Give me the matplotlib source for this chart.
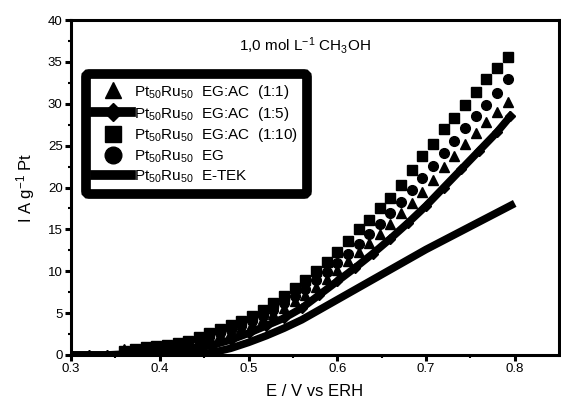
import matplotlib
matplotlib.use('Agg')
import matplotlib.pyplot as plt
from matplotlib.lines import Line2D

plt.rcParams['font.family'] = ['Liberation Sans', 'DejaVu Sans']
plt.rcParams['mathtext.fontset'] = 'custom'
plt.rcParams['mathtext.rm'] = 'Liberation Sans'
plt.rcParams['mathtext.it'] = 'Liberation Sans'
plt.rcParams['mathtext.default'] = 'regular'

# potential grid of the marker series (V vs ERH)
E_pts = [0.360, 0.372, 0.384, 0.396, 0.408, 0.420, 0.432, 0.444, 0.456, 0.468,
         0.480, 0.492, 0.504, 0.516, 0.528, 0.540, 0.552, 0.564, 0.576, 0.588,
         0.600, 0.612, 0.624, 0.636, 0.648, 0.660, 0.672, 0.684, 0.696, 0.708,
         0.720, 0.732, 0.744, 0.756, 0.768, 0.780, 0.792]

# Pt50Ru50 EG:AC (1:10) - squares
I_1_10 = [0.5, 0.7, 0.9, 1.1, 1.2, 1.4, 1.7, 2.1, 2.6, 3.1,
          3.6, 4.0, 4.7, 5.4, 6.2, 7.1, 8.0, 9.0, 10.0, 11.1,
          12.3, 13.6, 15.0, 16.1, 17.5, 18.7, 20.3, 22.1, 23.8, 25.2,
          27.0, 28.3, 29.9, 31.4, 32.9, 34.3, 35.6]

# Pt50Ru50 EG - circles
I_EG = [0.4, 0.6, 0.8, 0.9, 1.1, 1.3, 1.5, 1.8, 2.2, 2.6,
        3.0, 3.5, 4.1, 4.7, 5.4, 6.2, 7.0, 7.9, 8.9, 9.9,
        11.0, 12.1, 13.3, 14.5, 15.7, 17.0, 18.3, 19.7, 21.1, 22.6,
        24.1, 25.6, 27.1, 28.5, 29.9, 31.3, 32.9]

# Pt50Ru50 EG:AC (1:1) - triangles
I_1_1 = [0.7, 0.6, 0.7, 0.8, 0.9, 1.1, 1.4, 1.7, 2.0, 2.4,
         2.8, 3.2, 3.7, 4.3, 4.9, 5.6, 6.4, 7.2, 8.1, 9.1,
         10.2, 11.2, 12.3, 13.4, 14.5, 15.7, 16.9, 18.2, 19.5, 20.9,
         22.4, 23.8, 25.2, 26.5, 27.8, 29.0, 30.2]

# Pt50Ru50 EG:AC (1:5) - dense diamonds (thick band)
E_1_5 = [0.30, 0.32, 0.34, 0.36, 0.38, 0.40, 0.42, 0.44, 0.46, 0.48, 0.50, 0.52,
         0.54, 0.56, 0.58, 0.60, 0.62, 0.64, 0.66, 0.68, 0.70, 0.72, 0.74, 0.76,
         0.78, 0.795]
I_1_5 = [0.0, 0.0, 0.0, 0.1, 0.2, 0.3, 0.5, 0.8, 1.2, 1.8, 2.6, 3.5,
         4.4, 5.6, 7.2, 8.8, 10.4, 12.1, 13.9, 15.8, 17.8, 20.0, 22.2, 24.4,
         26.6, 28.5]

# Pt50Ru50 E-TEK - thick line
E_etek = [0.30, 0.32, 0.34, 0.36, 0.38, 0.40, 0.42, 0.44, 0.46, 0.48, 0.50, 0.52,
          0.54, 0.56, 0.58, 0.60, 0.62, 0.64, 0.66, 0.68, 0.70, 0.72, 0.74, 0.76,
          0.78, 0.80]
I_etek = [0.0, 0.0, 0.0, 0.0, 0.0, 0.0, 0.0, 0.1, 0.3, 0.8, 1.5, 2.3,
          3.2, 4.2, 5.4, 6.6, 7.8, 9.0, 10.2, 11.4, 12.6, 13.7, 14.8, 15.9,
          17.0, 18.1]

labels = [r'Pt$_{50}$Ru$_{50}$  EG:AC  (1:1)',
          r'Pt$_{50}$Ru$_{50}$  EG:AC  (1:5)',
          r'Pt$_{50}$Ru$_{50}$  EG:AC  (1:10)',
          r'Pt$_{50}$Ru$_{50}$  EG',
          r'Pt$_{50}$Ru$_{50}$  E-TEK']

fig = plt.figure(figsize=(5.61, 4.07), dpi=100)
ax = fig.add_axes([0.1266, 0.1278, 0.870, 0.823])

ax.plot(E_etek, I_etek, '-', color='k', lw=5.5, solid_capstyle='butt')
ax.plot(E_1_5, I_1_5, '-', color='k', lw=5.5, marker='D', ms=5)
ax.plot(E_pts, I_1_1, '^', color='k', ms=7.5, ls='none')
ax.plot(E_pts, I_EG, 'o', color='k', ms=7, ls='none')
ax.plot(E_pts, I_1_10, 's', color='k', ms=6.5, ls='none')

ax.set_xlim(0.3, 0.85)
ax.set_ylim(0, 40)
ax.set_xticks([0.3, 0.4, 0.5, 0.6, 0.7, 0.8])
ax.set_xticks([0.35, 0.45, 0.55, 0.65, 0.75], minor=True)
ax.set_yticks(range(0, 41, 5))
ax.set_yticks([2.5 + 5 * k for k in range(8)], minor=True)

for s in ax.spines.values():
    s.set_linewidth(2.2)
ax.tick_params(which='major', direction='out', length=4, width=2.2, labelsize=9.5, pad=2)
ax.tick_params(which='minor', direction='out', length=2, width=1.5)

ax.set_xlabel('E / V vs ERH', fontsize=12, labelpad=6)
ax.set_ylabel(r'I A g$^{-1}$ Pt', fontsize=12, labelpad=8)

ax.text(0.563, 37.0, r'1,0 mol L$^{-1}$ CH$_3$OH', fontsize=11, ha='center', va='center')

handles = [
    Line2D([], [], color='k', marker='^', ms=12, ls='none'),
    Line2D([], [], color='k', marker='D', ms=9, lw=7),
    Line2D([], [], color='k', marker='s', ms=12, ls='none'),
    Line2D([], [], color='k', marker='o', ms=12, ls='none'),
    Line2D([], [], color='k', lw=7),
]
leg = ax.legend(handles, labels, loc='upper left', bbox_to_anchor=(0.03, 0.84),
                fontsize=11, frameon=True, fancybox=True, framealpha=1,
                handlelength=2.4, handletextpad=0.15, labelspacing=0.25,
                borderpad=0.6, borderaxespad=0)
frame = leg.get_frame()
frame.set_edgecolor('k')
frame.set_linewidth(7)

fig.savefig('out.png', dpi=100)
